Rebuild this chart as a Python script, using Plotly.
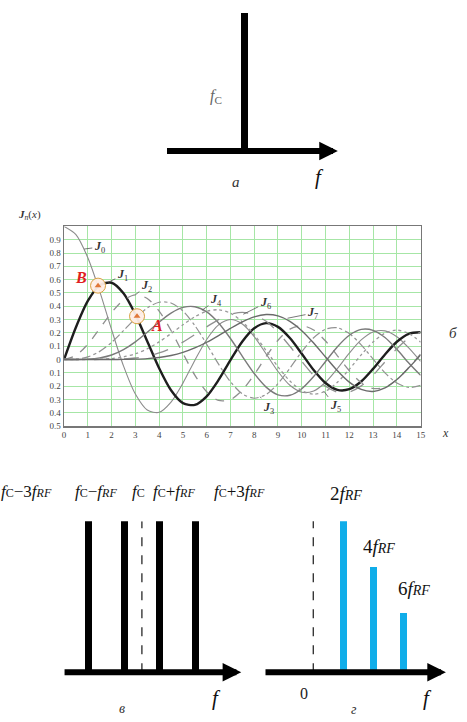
import plotly.graph_objects as go

W, H = 467, 722


def X(p):
    return p / W


def Y(p):
    return 1 - p / H


# ---------------- data ----------------
# Bessel functions J0..J7 read at x = 0, 0.5, ..., 15
x_vals = [0, 0.5, 1, 1.5, 2, 2.5, 3, 3.5, 4, 4.5, 5, 5.5, 6, 6.5, 7, 7.5,
          8, 8.5, 9, 9.5, 10, 10.5, 11, 11.5, 12, 12.5, 13, 13.5, 14, 14.5, 15]
J0 = [1.0, 0.9385, 0.7652, 0.5118, 0.2239, -0.0484, -0.2601, -0.3801, -0.3971, -0.3205, -0.1776,
      -0.0068, 0.1506, 0.2601, 0.3001, 0.2663, 0.1717, 0.0419, -0.0903, -0.1939, -0.2459, -0.2366,
      -0.1712, -0.0677, 0.0477, 0.1469, 0.2069, 0.2150, 0.1711, 0.0875, -0.0142]
J1 = [0.0, 0.2423, 0.4401, 0.5579, 0.5767, 0.4971, 0.3391, 0.1374, -0.0660, -0.2311, -0.3276,
      -0.3414, -0.2767, -0.1538, -0.0047, 0.1352, 0.2346, 0.2731, 0.2453, 0.1613, 0.0435, -0.0789,
      -0.1768, -0.2284, -0.2234, -0.1655, -0.0703, 0.0380, 0.1334, 0.1934, 0.2051]
J2 = [0.0, 0.0306, 0.1149, 0.2322, 0.3528, 0.4461, 0.4861, 0.4586, 0.3641, 0.2178, 0.0466,
      -0.1173, -0.2429, -0.3074, -0.3014, -0.2303, -0.1130, 0.0223, 0.1448, 0.2279, 0.2546, 0.2216,
      0.1390, 0.0279, -0.0849, -0.1734, -0.2177, -0.2093, -0.1520, -0.0608, 0.0416]
J3 = [0.0, 0.0026, 0.0196, 0.0610, 0.1289, 0.2166, 0.3091, 0.3868, 0.4302, 0.4247, 0.3648,
      0.2561, 0.1148, -0.0353, -0.1676, -0.2581, -0.2911, -0.2626, -0.1809, -0.0653, 0.0584, 0.1633,
      0.2273, 0.2381, 0.1951, 0.1100, 0.0033, -0.1001, -0.1768, -0.2102, -0.1940]
J4 = [0.0, 0.0002, 0.0025, 0.0118, 0.0340, 0.0738, 0.1320, 0.2044, 0.2811, 0.3484, 0.3912,
      0.3967, 0.3576, 0.2748, 0.1578, 0.0238, -0.1054, -0.2077, -0.2655, -0.2691, -0.2196, -0.1283,
      -0.0150, 0.0963, 0.1825, 0.2262, 0.2193, 0.1649, 0.0762, -0.0262, -0.1192]
J5 = [0.0, 0.0, 0.0002, 0.0018, 0.0070, 0.0195, 0.0430, 0.0804, 0.1321, 0.1947, 0.2611,
      0.3209, 0.3621, 0.3736, 0.3479, 0.2835, 0.1858, 0.0671, -0.0550, -0.1613, -0.2341, -0.2611,
      -0.2383, -0.1711, -0.0735, 0.0347, 0.1316, 0.1978, 0.2204, 0.1958, 0.1305]
J6 = [0.0, 0.0, 0.0, 0.0002, 0.0012, 0.0041, 0.0114, 0.0254, 0.0491, 0.0843, 0.1310,
      0.1868, 0.2458, 0.2999, 0.3392, 0.3541, 0.3376, 0.2867, 0.2043, 0.0993, -0.0145, -0.1203,
      -0.2016, -0.2451, -0.2437, -0.1984, -0.1180, -0.0184, 0.0812, 0.1612, 0.2061]
J7 = [0.0, 0.0, 0.0, 0.0, 0.0002, 0.0008, 0.0025, 0.0067, 0.0152, 0.0300, 0.0534,
      0.0866, 0.1296, 0.1801, 0.2336, 0.2832, 0.3206, 0.3376, 0.3275, 0.2868, 0.2167, 0.1236,
      0.0184, -0.0847, -0.1703, -0.2252, -0.2406, -0.2141, -0.1508, -0.0624, 0.0345]
bessel = [J0, J1, J2, J3, J4, J5, J6, J7]

x_ticks = list(range(16))

# label anchors on curves (x, value)
label_x = [0.85, 1.86, 3.0, 8.25, 5.8, 10.94, 7.54, 9.4]
label_y = [0.83, 0.58, 0.486, -0.28, 0.37, -0.24, 0.34, 0.31]

# points A and B
pt_x = [1.43, 3.07]
pt_y = [0.555, 0.325]

y_tick_vals = [-0.5, -0.4, -0.3, -0.2, -0.1, 0.0, 0.1, 0.2, 0.3, 0.4, 0.5, 0.6, 0.7, 0.8, 0.9]
y_tick_text = ["0.5", "0.4", "0.3", "0.2", "0.1", "0", "0.1", "0.2", "0.3", "0.4", "0.5", "0.6", "0.7", "0.8", "0.9"]

# panel a: carrier
a_freq = [0.0]
a_amp = [1.0]
# panel в: sidebands (offsets in units of f_RF)
v_freq = [-3, -1, 1, 3]
v_amp = [1.0, 1.0, 1.0, 1.0]
# panel г: harmonics
g_freq = [2, 4, 6]
g_amp = [1.0, 0.70, 0.39]

SERIF = "Liberation Serif"

fig = go.Figure()

# ---------------- Bessel panel ----------------
styles = [
    dict(color="#8c8c8c", width=1.1, dash="solid"),
    dict(color="#1e1e1e", width=2.4, dash="solid"),
    dict(color="#8f8f8f", width=1.3, dash="dash"),
    dict(color="#929292", width=1.2, dash="dashdot"),
    dict(color="#7a7a7a", width=1.4, dash="solid"),
    dict(color="#999999", width=1.3, dash="dot"),
    dict(color="#909090", width=1.3, dash="longdash"),
    dict(color="#6a6a6a", width=1.4, dash="solid"),
]
for n, (vals, st) in enumerate(zip(bessel, styles)):
    fig.add_trace(go.Scatter(x=x_vals, y=vals, mode="lines", line=dict(shape="spline", smoothing=0.8, **st),
                             xaxis="x", yaxis="y", showlegend=False, hoverinfo="skip", name=f"J{n}"))

# A, B markers
fig.add_trace(go.Scatter(x=pt_x, y=pt_y, mode="markers",
                         marker=dict(size=15, color="rgba(255,238,230,0.95)",
                                     line=dict(color="#d9a040", width=1)),
                         xaxis="x", yaxis="y", showlegend=False, hoverinfo="skip"))
fig.add_trace(go.Scatter(x=pt_x, y=pt_y, mode="markers",
                         marker=dict(size=6, color="#e0783a", symbol="triangle-up"),
                         xaxis="x", yaxis="y", showlegend=False, hoverinfo="skip"))

# ---------------- panel a ----------------
fig.add_trace(go.Bar(x=a_freq, y=a_amp, width=0.09, marker=dict(color="black", line=dict(width=0)),
                     xaxis="x2", yaxis="y2", showlegend=False, hoverinfo="skip"))
# ---------------- panel в ----------------
fig.add_trace(go.Bar(x=v_freq, y=v_amp, width=0.39, marker=dict(color="black", line=dict(width=0)),
                     xaxis="x3", yaxis="y3", showlegend=False, hoverinfo="skip"))
fig.add_trace(go.Scatter(x=[0, 0], y=[0, 1.0], mode="lines", line=dict(color="black", width=1.1, dash="dash"),
                         xaxis="x3", yaxis="y3", showlegend=False, hoverinfo="skip"))
# ---------------- panel г ----------------
fig.add_trace(go.Bar(x=g_freq, y=g_amp, width=0.46, marker=dict(color="#10ade9", line=dict(width=0)),
                     xaxis="x4", yaxis="y4", showlegend=False, hoverinfo="skip"))
fig.add_trace(go.Scatter(x=[0, 0], y=[0, 1.01], mode="lines", line=dict(color="black", width=1.1, dash="dash"),
                         xaxis="x4", yaxis="y4", showlegend=False, hoverinfo="skip"))

grid_col = "#a6e6a6"
hidden = dict(visible=False, fixedrange=True)
fig.update_layout(
    width=W, height=H,
    margin=dict(l=0, r=0, t=0, b=0),
    paper_bgcolor="white", plot_bgcolor="white",
    font=dict(family=SERIF, color="#222"),
    bargap=0,
    hovermode=False,
    xaxis=dict(domain=[X(63), X(425)], range=[0, 15], tickvals=x_ticks, showgrid=True,
               gridcolor=grid_col, gridwidth=1, showline=True, linecolor="#777", linewidth=1.5,
               mirror=True, zeroline=False, ticks="", tickfont=dict(size=9, color="#444", family=SERIF),
               anchor="y", fixedrange=True),
    yaxis=dict(domain=[Y(429), Y(228)], range=[-0.5, 1.0], tickvals=y_tick_vals, ticktext=y_tick_text,
               showgrid=True, gridcolor=grid_col, gridwidth=1, showline=True, linecolor="#777",
               linewidth=1.5, mirror=True, zeroline=False, ticks="",
               tickfont=dict(size=9, color="#444", family=SERIF), anchor="x", fixedrange=True),
    xaxis2=dict(domain=[X(167), X(337)], range=[-1.0, 1.15], anchor="y2", **hidden),
    yaxis2=dict(domain=[Y(152), Y(13)], range=[0, 1], anchor="x2", **hidden),
    xaxis3=dict(domain=[X(63), X(240)], range=[-4.39, 5.44], anchor="y3", **hidden),
    yaxis3=dict(domain=[Y(677), Y(525)], range=[0, 1], anchor="x3", **hidden),
    xaxis4=dict(domain=[X(267), X(445)], range=[-3.2, 8.43], anchor="y4", **hidden),
    yaxis4=dict(domain=[Y(677), Y(525)], range=[0, 1], anchor="x4", **hidden),
)

ann = []
# axis arrows for schematic panels (tail, tip in axis units)
for ax_id, x0, x1 in [("2", -1.0, 1.2), ("3", -4.39, 5.6), ("4", -3.2, 8.8)]:
    ann.append(dict(xref="x" + ax_id, yref="y" + ax_id, axref="x" + ax_id, ayref="y" + ax_id,
                    x=x1, y=0, ax=x0, ay=0, text="", showarrow=True, arrowhead=2,
                    arrowsize=0.62, arrowwidth=6, arrowcolor="black", borderpad=0,
                    font=dict(size=1)))

# Bessel curve labels
label_offsets = [(15, -2), (14, -7), (11, -9), (8, 11), (14, -10), (11, 15), (22, -11), (25, -5)]
for n, (lx, ly) in enumerate(zip(label_x, label_y)):
    offs = label_offsets[n]
    ann.append(dict(xref="x", yref="y", x=lx, y=ly, ax=offs[0], ay=offs[1],
                    text=f"<b><i>J</i></b><sub>{n}</sub>", showarrow=True, arrowhead=0,
                    arrowwidth=0.8, arrowcolor="#555", standoff=0,
                    font=dict(size=12, family=SERIF, color="#333")))


def txt(px, py, text, size, color="#222", xanchor="center"):
    ann.append(dict(xref="paper", yref="paper", x=X(px), y=Y(py), text=text, showarrow=False,
                    xanchor=xanchor, yanchor="middle", font=dict(size=size, family=SERIF, color=color)))


# A / B labels
txt(80, 279, "<b><i>B</i></b>", 16, "#e02020")
txt(157, 328, "<b><i>A</i></b>", 16, "#e02020")
# axis titles of Bessel panel
txt(28, 217, "<b><i>J</i></b><sub><i>n</i></sub>(<i>x</i>)", 11, "#333")
txt(450, 436, "<i>x</i>", 12, "#333")
txt(458, 335, "<i>б</i>", 15, "#333")

# panel a
txt(217, 97, "<i>f</i><sub>C</sub>", 16, "#666")
txt(238, 183, "<i>а</i>", 15, "#333")
txt(322, 178, "<i>f</i>", 21, "#111")

s = "<span style='font-size:12px'>"
e = "</span>"
# panel в
txt(-3, 495, f"<i>f</i>{s}C{e}−3<i>f</i>{s}<i>RF</i>{e}", 17, "#111", "left")
txt(72, 495, f"<i>f</i>{s}C{e}−<i>f</i>{s}<i>RF</i>{e}", 17, "#111", "left")
txt(130, 495, f"<i>f</i>{s}C{e}", 17, "#111", "left")
txt(151, 495, f"<i>f</i>{s}C{e}+<i>f</i>{s}<i>RF</i>{e}", 17, "#111", "left")
txt(213, 495, f"<i>f</i>{s}C{e}+3<i>f</i>{s}<i>RF</i>{e}", 17, "#111", "left")
txt(122, 713, "<i>в</i>", 14, "#333")
txt(218, 703, "<i>f</i>", 21, "#111")

# panel г
s2 = "<span style='font-size:14px'>"
txt(349, 497, f"2<i>f</i>{s2}<i>RF</i>{e}", 19, "#111")
txt(383, 550, f"4<i>f</i>{s2}<i>RF</i>{e}", 19, "#111")
txt(418, 593, f"6<i>f</i>{s2}<i>RF</i>{e}", 19, "#111")
txt(307, 698, "0", 16, "#222")
txt(432, 703, "<i>f</i>", 21, "#111")
txt(357, 714, "<i>г</i>", 14, "#333")

fig.update_layout(annotations=ann)
fig.write_html("out.html", config={"displayModeBar": False, "staticPlot": True},
               post_script="document.body.style.margin='0px';")
